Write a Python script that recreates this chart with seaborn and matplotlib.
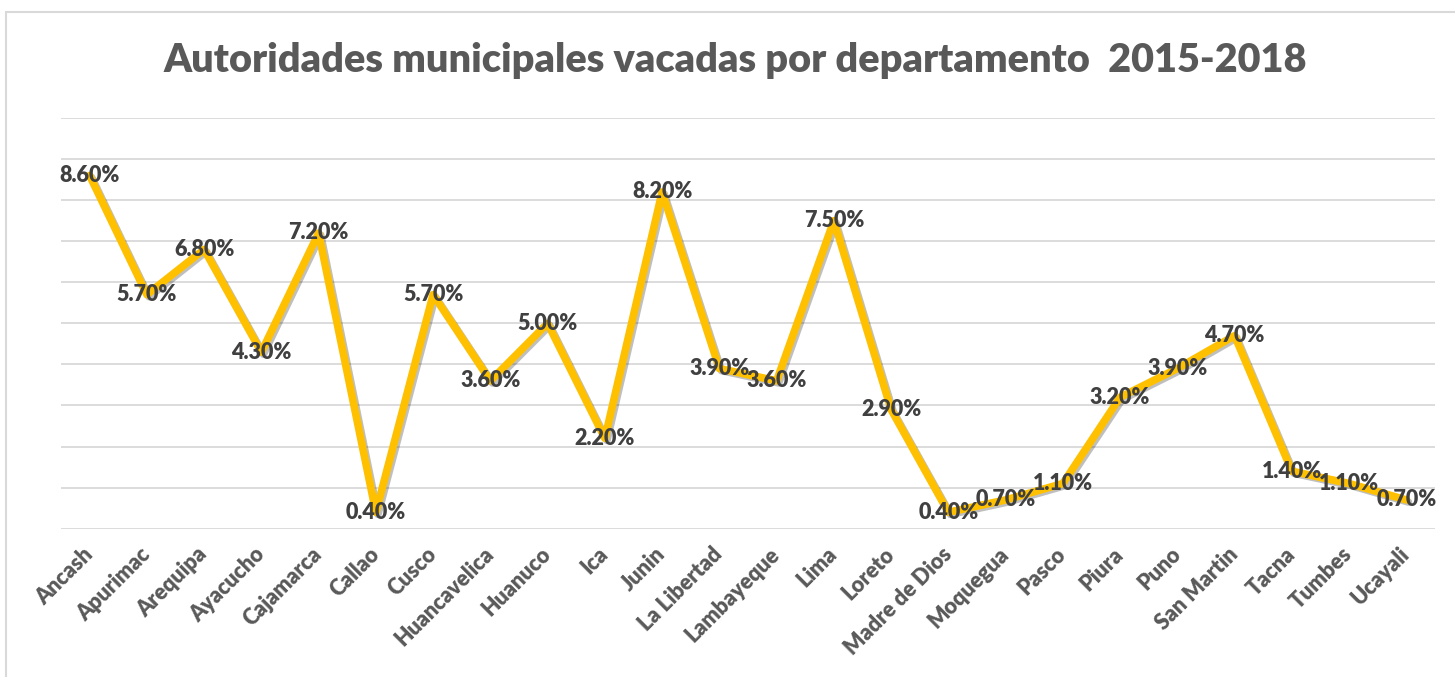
import pandas as pd
import matplotlib
matplotlib.use("Agg")
import matplotlib.pyplot as plt
import matplotlib.patheffects as pe
from matplotlib.patches import Rectangle
import seaborn as sns

# Datos
departamentos = ["Ancash", "Apurimac", "Arequipa", "Ayacucho", "Cajamarca", "Callao",
                 "Cusco", "Huancavelica", "Huanuco", "Ica", "Junin", "La Libertad",
                 "Lambayeque", "Lima", "Loreto", "Madre de Dios", "Moquegua", "Pasco",
                 "Piura", "Puno", "San Martin", "Tacna", "Tumbes", "Ucayali"]
porcentajes = [8.6, 5.7, 6.8, 4.3, 7.2, 0.4, 5.7, 3.6, 5.0, 2.2, 8.2, 3.9,
               3.6, 7.5, 2.9, 0.4, 0.7, 1.1, 3.2, 3.9, 4.7, 1.4, 1.1, 0.7]

df = pd.DataFrame({"departamento": departamentos, "pct": porcentajes})
df["pos"] = range(len(df))

sns.set_style("white")
plt.rcParams["font.family"] = ["Lato", "DejaVu Sans"]

fig = plt.figure(figsize=(14.55, 6.77), dpi=100)
ax = fig.add_axes([61 / 1455, 1 - 528.7 / 677, (1435 - 61) / 1455, (528.7 - 118) / 677])

# Marco gris del gráfico
fig.patches.append(Rectangle((6 / 1455, -0.1), 1.2, 1.1 - 12 / 677, transform=fig.transFigure,
                             fill=False, edgecolor="#D9D9D9", linewidth=1.5))

# Líneas de cuadrícula
for v in range(0, 11):
    ax.axhline(v, color="#D9D9D9", linewidth=1.3, zorder=0)

sns.lineplot(data=df, x="pos", y="pct", ax=ax, color="#FFC000", linewidth=5.5,
             solid_joinstyle="round", solid_capstyle="round", zorder=3,
             path_effects=[pe.SimpleLineShadow(offset=(1.5, -1.5), alpha=0.25, shadow_color="#000000"),
                           pe.Normal()])

# Etiquetas de datos
for x, y in zip(df["pos"], df["pct"]):
    ax.text(x, y, f"{y:.2f}%", ha="center", va="center", fontsize=15.5, fontweight="heavy",
            color="#404040", zorder=4)

ax.set_xlim(-0.5, len(df) - 0.5)
ax.set_ylim(0, 10)
ax.set_yticks([])
ax.set_xticks(df["pos"])
ax.set_xticklabels(df["departamento"], rotation=45, ha="right", va="center",
                   rotation_mode="anchor", fontsize=15.5, fontweight="heavy", color="#595959")
ax.tick_params(axis="x", length=0, pad=16)
ax.set_xlabel("")
ax.set_ylabel("")
for s in ax.spines.values():
    s.set_visible(False)

fig.text(0.505, 0.911, "Autoridades municipales vacadas por departamento  2015-2018",
         ha="center", va="center", fontsize=28.5, fontweight="heavy", color="#595959")

fig.savefig("out.png", dpi=100)
